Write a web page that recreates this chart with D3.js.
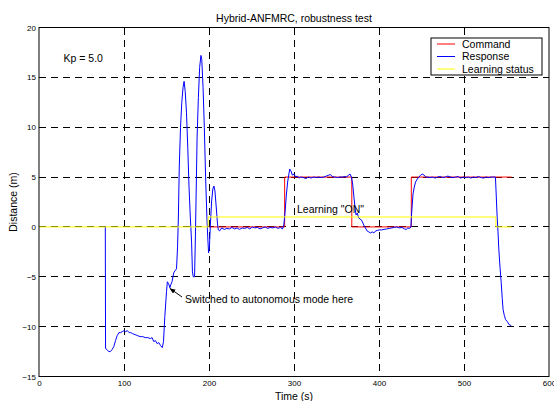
<!DOCTYPE html>
<html><head><meta charset="utf-8">
<script src="https://cdn.jsdelivr.net/npm/d3@7"></script>
<style>
body{margin:0;background:#fff;}
svg{display:block;font-family:"Liberation Sans",Arial,sans-serif;}
</style></head>
<body><svg id="c" width="554" height="401"></svg>
<script>
const title = "Hybrid-ANFMRC, robustness test";
const xLabel = "Time (s)";
const yLabel = "Distance (m)";
const xTicks = [0,100,200,300,400,500,600];
const yTicks = [-15,-10,-5,0,5,10,15,20];
const seriesNames = ["Command","Response","Learning status"];
const seriesColors = ["#ff0000","#0000ff","#ffff00"];

const commandT = [200,289,289,368,368,438,438,556];
const commandV = [0,0,5,5,0,0,5,5];

const learningT = [0,199,199,537.5,537.5,556];
const learningV = [0,0,1,1,0,0];

const responseT = [78,78.3,80,82,84,86,88,90,92,94,96,98,100,102,104,106,108,110,113,116,119,122,125,128,131,133,135,137,139,141,143,145,146.5,148,150,151,152.5,154,155,156.5,158.5,160,161.8,163,164,165,166.5,168,169.5,170.7,172,173.5,175,176.5,178,179.5,180.5,181.5,183,184,185,186,187.5,189,190.5,191.5,193,194.5,196,197.5,198.5,199.5,200.5,201.5,203,204.5,205.8,207,208.5,210,211,212.5,215,218,221,224,227,230,233,236,239,242,245,248,251,254,257,260,263,266,269,272,275,278,281,284,286.5,288,289.5,291,292.5,294,295,296.5,298,300,302,304,306,308,311,314,317,320,323,326,329,332,335,338,341,343,345,348,351,354,357,360,362,364,366,367.5,369,370.5,372,373,374.5,376,378,380,382,384,386,388,390,392,394,396,398,400,403,406,409,412,415,418,421,424,427,430,432,434,436,437.5,438.5,440,441.5,443,445,447,449,451,453,455,457,460,463,466,469,472,475,478,481,484,487,490,493,496,499,502,505,508,511,514,517,520,523,526,529,532,535,537,538,539,540,541,542.5,543.8,545,546,547.5,549,551,553,555.6];
const responseV = [0,-12.2,-12.3,-12.5,-12.5,-12.3,-12.0,-11.4,-10.9,-10.6,-10.6,-10.5,-10.4,-10.5,-10.4,-10.6,-10.6,-10.7,-10.8,-10.9,-11.0,-11.0,-11.1,-11.1,-11.2,-11.1,-11.5,-11.4,-11.7,-11.6,-11.9,-12.1,-11.5,-9.0,-6.5,-5.5,-5.7,-6.1,-5.8,-5.5,-4.6,-4.4,-4.2,-2,1,6,10,12.5,14,14.6,13.6,11.5,8,4,1,-1.5,-4.5,-5.0,-5.0,-1,4,9,13,16,17.2,16.8,14,10,5,1,-1,-2.6,-2.0,0,2.5,3.8,4.1,3.6,2.0,0.3,-0.3,-0.4,-0.1,-0.25,-0.15,-0.2,-0.05,-0.2,-0.1,-0.25,-0.1,-0.15,-0.05,-0.2,0.0,-0.1,-0.05,-0.2,-0.1,0.0,-0.15,-0.05,-0.1,0.0,-0.15,-0.05,-0.2,0.2,1.5,3.2,4.5,5.3,5.8,5.6,5.2,5.3,5.0,5.1,4.9,5.0,4.95,4.85,5.0,4.9,5.0,4.95,5.0,4.95,5.0,5.1,5.2,5.25,5.05,5.0,4.95,5.0,5.0,5.05,5.0,5.2,5.3,5.0,4.3,3.0,1.8,1.2,1.4,0.9,0.8,0.6,0.2,-0.1,-0.4,-0.5,-0.6,-0.5,-0.6,-0.4,-0.35,-0.3,-0.3,-0.25,-0.2,-0.15,-0.1,-0.05,0.0,-0.1,-0.05,-0.2,-0.25,-0.1,-0.15,0.0,1.5,3.3,4.0,4.5,4.8,5.0,5.2,5.3,5.2,5.0,5.0,4.95,5.0,4.9,5.0,5.05,4.95,5.0,5.1,5.0,4.95,5.0,5.05,4.9,5.0,4.95,5.0,4.9,5.0,4.95,5.05,4.95,4.9,5.0,4.95,5.0,5.0,5.0,3,1,-0.5,-2.3,-4.2,-5.6,-7.2,-8.3,-8.9,-9.3,-9.5,-9.8,-9.9];

const svg = d3.select("#c");
const L = 39, R = 549, T = 27.5, B = 376.5;
const x = d3.scaleLinear().domain([0,600]).range([L,R]);
const y = d3.scaleLinear().domain([-15,20]).range([B,T]);

// grid
const g = svg.append("g");
g.selectAll("line.vx").data(xTicks.slice(1,-1)).join("line")
  .attr("x1",d=>x(d)).attr("x2",d=>x(d)).attr("y1",T).attr("y2",B)
  .attr("stroke","#000").attr("stroke-width",1).attr("stroke-dasharray","7,5").attr("shape-rendering","crispEdges");
g.selectAll("line.hy").data(yTicks.slice(1,-1)).join("line")
  .attr("x1",L).attr("x2",R).attr("y1",d=>y(d)).attr("y2",d=>y(d))
  .attr("stroke","#000").attr("stroke-width",1).attr("stroke-dasharray","7,5").attr("shape-rendering","crispEdges");

// axes labels
const ax = svg.append("g").attr("transform",`translate(0,${B})`)
  .call(d3.axisBottom(x).tickValues(xTicks).tickSize(0).tickPadding(4).tickFormat(d3.format("d")));
const ay = svg.append("g").attr("transform",`translate(${L},0)`)
  .call(d3.axisLeft(y).tickValues(yTicks).tickSize(0).tickPadding(3).tickFormat(d3.format("d")));
[ax,ay].forEach(a=>{a.select(".domain").remove();
  a.selectAll("text").attr("font-size",8).attr("font-family","Liberation Sans, Arial, sans-serif").attr("fill","#000");});

// data lines
const line = d3.line().x(d=>x(d[0])).y(d=>y(d[1]));
const zip = (t,v)=>t.map((d,i)=>[d,v[i]]);
const series = [zip(commandT,commandV), zip(responseT,responseV), zip(learningT,learningV)];
series.forEach((s,i)=>{
  svg.append("path").datum(s).attr("d",line).attr("fill","none")
    .attr("stroke",seriesColors[i]).attr("stroke-width",1);
});

// box
svg.append("rect").attr("x",L).attr("y",T).attr("width",R-L).attr("height",B-T)
  .attr("fill","none").attr("stroke","#000").attr("stroke-width",1);

// title and labels
svg.append("text").attr("x",(L+R)/2).attr("y",22).attr("text-anchor","middle")
  .attr("font-size",10.5).text(title);
svg.append("text").attr("x",(L+R)/2).attr("y",399.5).attr("text-anchor","middle")
  .attr("font-size",10.5).text(xLabel);
svg.append("text").attr("transform",`translate(17,${(T+B)/2}) rotate(-90)`).attr("text-anchor","middle")
  .attr("font-size",10.5).text(yLabel);

// annotations
svg.append("text").attr("x",63.5).attr("y",62).attr("font-size",10.5).text("Kp = 5.0");
svg.append("text").attr("x",297).attr("y",213).attr("font-size",10.5).text('Learning "ON"');
svg.append("text").attr("x",185).attr("y",303).attr("font-size",10.5).text("Switched to autonomous mode here");
svg.append("defs").append("marker").attr("id","ah").attr("viewBox","0 0 10 10").attr("refX",9).attr("refY",5)
  .attr("markerWidth",6).attr("markerHeight",6).attr("orient","auto")
  .append("path").attr("d","M0,1 L10,5 L0,9 Z").attr("fill","#000");
svg.append("line").attr("x1",182).attr("y1",297).attr("x2",170).attr("y2",288.5)
  .attr("stroke","#000").attr("stroke-width",1).attr("marker-end","url(#ah)");

// legend
const lg = svg.append("g");
lg.append("rect").attr("x",431).attr("y",38).attr("width",111).attr("height",37)
  .attr("fill","#fff").attr("stroke","#000").attr("stroke-width",1);
seriesNames.forEach((n,i)=>{
  const yy = 44 + i*12.5;
  lg.append("line").attr("x1",437).attr("x2",455).attr("y1",yy).attr("y2",yy)
    .attr("stroke",seriesColors[i]).attr("stroke-width",1);
  lg.append("text").attr("x",462).attr("y",yy+3.8).attr("font-size",10.5).text(n);
});
</script></body></html>
